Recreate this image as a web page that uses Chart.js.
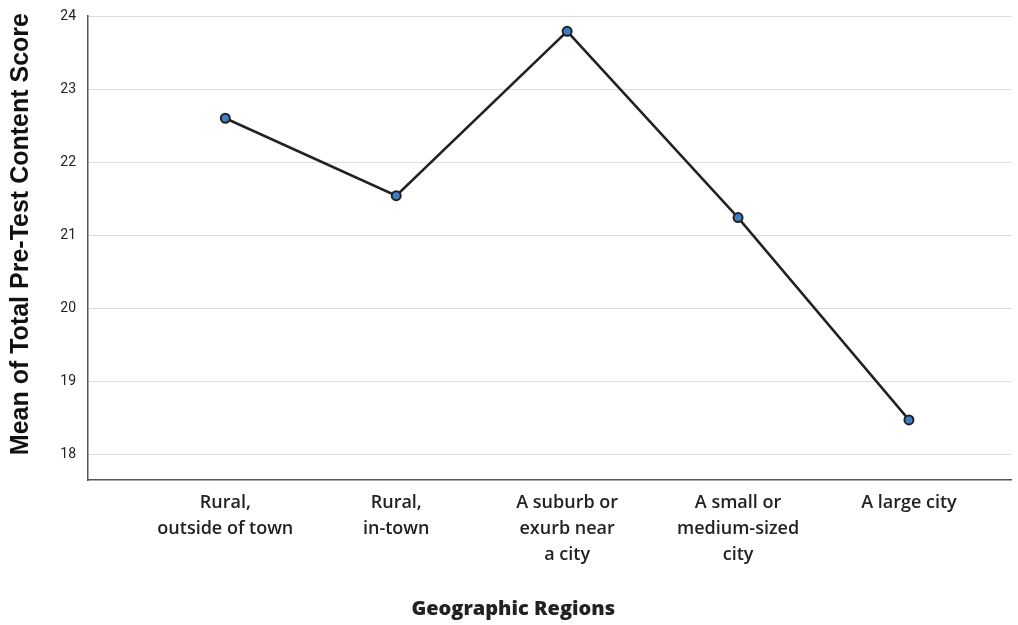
<!DOCTYPE html>
<html>
<head>
<meta charset="utf-8">
<script src="https://cdn.jsdelivr.net/npm/chart.js@4"></script>
<style>
  html, body { margin: 0; padding: 0; background: #fff; }
  #wrap { width: 1018px; height: 625px; }
</style>
</head>
<body>
<div id="wrap"><canvas id="chart" width="1018" height="625"></canvas></div>
<script>
// Categories (multi-line labels) and mean scores
const regions = [
  ['Rural,', 'outside of town'],
  ['Rural,', 'in-town'],
  ['A suburb or', 'exurb near', 'a city'],
  ['A small or', 'medium-sized', 'city'],
  ['A large city']
];
const meanScores = [22.6, 21.54, 23.79, 21.24, 18.47];
const yTicks = [18, 19, 20, 21, 22, 23, 24];

const points = meanScores.map((v, i) => ({ x: i, y: v }));

new Chart(document.getElementById('chart'), {
  type: 'line',
  data: {
    datasets: [{
      data: points,
      borderColor: '#222',
      borderWidth: 2.5,
      pointRadius: 4.5,
      pointBackgroundColor: '#3a7fc8',
      pointBorderColor: '#222',
      pointBorderWidth: 2,
      tension: 0
    }]
  },
  options: {
    responsive: false,
    animation: false,
    layout: { padding: { top: 16, right: 2, left: 0, bottom: 0 } },
    plugins: {
      legend: { display: false },
      tooltip: { enabled: false },
      title: {
        display: true,
        position: 'bottom',
        text: '  Geographic Regions',
        color: '#222',
        font: { family: 'Open Sans', size: 20, weight: '800' },
        padding: { top: 0, bottom: 4 }
      }
    },
    scales: {
      x: {
        type: 'linear',
        min: -0.8035,
        max: 4.6,
        afterBuildTicks: axis => { axis.ticks = regions.map((r, i) => ({ value: i })); },
        afterFit: axis => { axis.height = 117; },
        grid: { display: false, drawTicks: false },
        border: { display: true, color: '#555', width: 1.5 },
        ticks: {
          padding: 10,
          maxRotation: 0,
          autoSkip: false,
          color: '#222',
          font: { family: 'Open Sans', size: 18, weight: '600', lineHeight: 1.444 },
          callback: v => regions[v]
        }
      },
      y: {
        min: 17.647,
        max: 24,
        afterBuildTicks: axis => { axis.ticks = yTicks.map(v => ({ value: v })); },
        afterFit: axis => {
          axis.width = 88;
          // keep tick padding from pushing the plot area down
          axis.paddingTop = 0;
          axis.paddingBottom = 0;
        },
        grid: { color: '#dcdcdc', lineWidth: 1, drawTicks: false },
        border: { display: true, color: '#555', width: 1.5 },
        ticks: {
          padding: 12,
          color: '#222',
          font: { family: 'Roboto', size: 14 }
        },
        title: {
          display: true,
          text: '    Mean of Total Pre-Test Content Score',
          color: '#111',
          font: { family: 'Liberation Sans', size: 25, weight: 'bold' },
          padding: { top: 6, bottom: 0 }
        }
      }
    }
  }
});
</script>
</body>
</html>
